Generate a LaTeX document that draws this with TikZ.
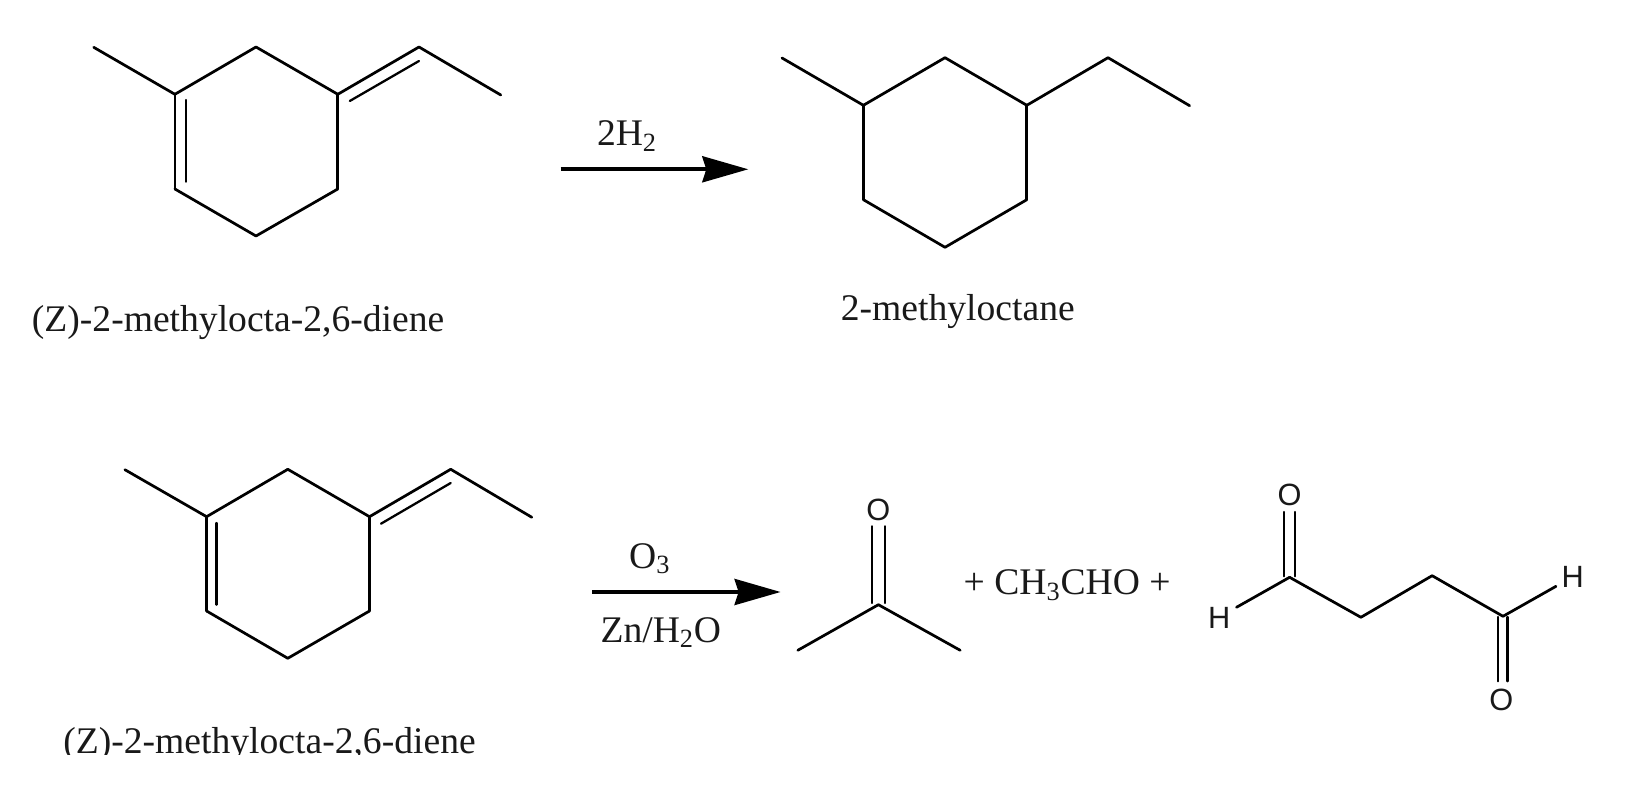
\documentclass[tikz,border=0pt]{standalone}
\usepackage{fontspec}
\setmainfont{Liberation Serif}
\newfontfamily\atomfont{Liberation Sans}
\usetikzlibrary{arrows.meta}

\begin{document}
\begin{tikzpicture}[x=0.02cm,y=-0.02cm,>={Stealth[length=0.92cm,width=0.52cm,inset=0.08cm]},
    line width=1.55pt,line cap=round,line join=round,
    name label/.style={anchor=base,inner sep=0pt,text=black!90,font=\fontsize{21.4}{24}\selectfont},
    atom label/.style={inner sep=0pt,text=black!90,font=\atomfont\fontsize{17.5}{20}\selectfont},
    thin bond/.style={line width=1.3pt}]
    \useasboundingbox (0,0) rectangle (1632,786);

    \coordinate (dA1) at (93.7,47.3);
    \coordinate (dA2) at (174.9,94.3);
    \coordinate (dA3) at (256,47);
    \coordinate (dA4) at (337.8,94.3);
    \coordinate (dA5) at (419,47);
    \coordinate (dA6) at (500.8,95);
    \coordinate (dA7) at (337.8,189);
    \coordinate (dA8) at (256,236);
    \coordinate (dA9) at (174.9,189);
    \coordinate (dAi1) at (185.8,100);
    \coordinate (dAi2) at (185.8,181.7);
    \coordinate (dAi3) at (349.8,101);
    \coordinate (dAi4) at (419,61);
    \path
        (dA1) edge (dA2)
        (dA2) edge (dA3)
        (dA3) edge (dA4)
        (dA4) edge (dA5)
        (dA5) edge (dA6)
        (dA4) edge (dA7)
        (dA7) edge (dA8)
        (dA8) edge (dA9)
        (dA9) edge (dA2)
        (dAi1) edge[thin bond] (dAi2)
        (dAi3) edge[thin bond] (dAi4)
    ;

    \coordinate (mA1) at (782,58);
    \coordinate (mA2) at (863.4,105.3);
    \coordinate (mA3) at (945,57.7);
    \coordinate (mA4) at (1026.8,105.3);
    \coordinate (mA5) at (1108,57.7);
    \coordinate (mA6) at (1189.6,105.7);
    \coordinate (mA7) at (1026.8,199.7);
    \coordinate (mA8) at (945,247.3);
    \coordinate (mA9) at (863.4,199.7);
    \path
        (mA1) edge (mA2)
        (mA2) edge (mA3)
        (mA3) edge (mA4)
        (mA4) edge (mA5)
        (mA5) edge (mA6)
        (mA4) edge (mA7)
        (mA7) edge (mA8)
        (mA8) edge (mA9)
        (mA9) edge (mA2)
    ;

    \coordinate (dB1) at (124.9,469.7);
    \coordinate (dB2) at (206.6,516.7);
    \coordinate (dB3) at (287.8,469.3);
    \coordinate (dB4) at (369.5,516.7);
    \coordinate (dB5) at (450.7,469.3);
    \coordinate (dB6) at (531.8,517.3);
    \coordinate (dB7) at (369.5,611);
    \coordinate (dB8) at (287.8,658.3);
    \coordinate (dB9) at (206.6,611);
    \coordinate (dBi1) at (216.5,523);
    \coordinate (dBi2) at (216.5,604.7);
    \coordinate (dBi3) at (381,523.7);
    \coordinate (dBi4) at (450.7,483);
    \path
        (dB1) edge (dB2)
        (dB2) edge (dB3)
        (dB3) edge (dB4)
        (dB4) edge (dB5)
        (dB5) edge (dB6)
        (dB4) edge (dB7)
        (dB7) edge (dB8)
        (dB8) edge (dB9)
        (dB9) edge (dB2)
        (dBi1) edge[thin bond] (dBi2)
        (dBi3) edge[thin bond] (dBi4)
    ;

    \coordinate (a1) at (560.5,169.3);
    \coordinate (a2) at (748.3,169.3);
    \coordinate (b1) at (592.2,592);
    \coordinate (b2) at (780.6,592);
    \draw[->,line width=2.1pt,line cap=butt] (a1) -- (a2);
    \draw[->,line width=2.1pt,line cap=butt] (b1) -- (b2);

    \node[name label] (h2) at (627,145.7) {2H\textsubscript{2}};
    \node[name label] (o3) at (649.7,568) {O\textsubscript{3}};
    \node[name label] (zn) at (660.8,642.3) {Zn/H\textsubscript{2}O};
    \node[name label] (diene1) at (238.1,331.7) {(Z)-2-methylocta-2,6-diene};
    \node[name label] (octane) at (957.8,320.7) {2-methyloctane};
    \node[name label] (diene2) at (269.5,753.7) {(Z)-2-methylocta-2,6-diene};
    \node[name label] (plus) at (1067.1,594.7) {+ CH\textsubscript{3}CHO +};

    \node[atom label] (kO) at (878.4,509.7) {O};
    \coordinate (kC) at (878.4,604.7);
    \coordinate (kL) at (797.8,650.3);
    \coordinate (kR) at (960.2,650.3);
    \coordinate (kd1) at (872.2,526.3);
    \coordinate (kd2) at (872.2,603);
    \coordinate (kd3) at (884.7,526.3);
    \coordinate (kd4) at (884.7,603);
    \path
        (kC) edge (kL)
        (kC) edge (kR)
        (kd1) edge[thin bond] (kd2)
        (kd3) edge[thin bond] (kd4)
    ;

    \node[atom label] (sO1) at (1289.6,495.3) {O};
    \node[atom label] (sO2) at (1501.4,699.7) {O};
    \node[atom label] (sH1) at (1219.3,618) {H};
    \node[atom label] (sH2) at (1572.7,577) {H};
    \coordinate (sC1) at (1289.6,577.3);
    \coordinate (sC2) at (1360.9,617.3);
    \coordinate (sC3) at (1432.1,575.7);
    \coordinate (sC4) at (1503,616.3);
    \coordinate (sb1) at (1236.5,607.3);
    \coordinate (sb2) at (1556,586.3);
    \coordinate (sd1) at (1283.8,512);
    \coordinate (sd2) at (1283.8,576.3);
    \coordinate (sd3) at (1295.3,512);
    \coordinate (sd4) at (1295.3,576.3);
    \coordinate (sd5) at (1497.7,617);
    \coordinate (sd6) at (1497.7,681.3);
    \coordinate (sd7) at (1507.6,617);
    \coordinate (sd8) at (1507.6,681.3);
    \path
        (sb1) edge (sC1)
        (sC1) edge (sC2)
        (sC2) edge (sC3)
        (sC3) edge (sC4)
        (sC4) edge (sb2)
        (sd1) edge[thin bond] (sd2)
        (sd3) edge[thin bond] (sd4)
        (sd5) edge[thin bond] (sd6)
        (sd7) edge[thin bond] (sd8)
    ;

    \fill[white] (0,755) rectangle (1632,786);
\end{tikzpicture}
\end{document}
